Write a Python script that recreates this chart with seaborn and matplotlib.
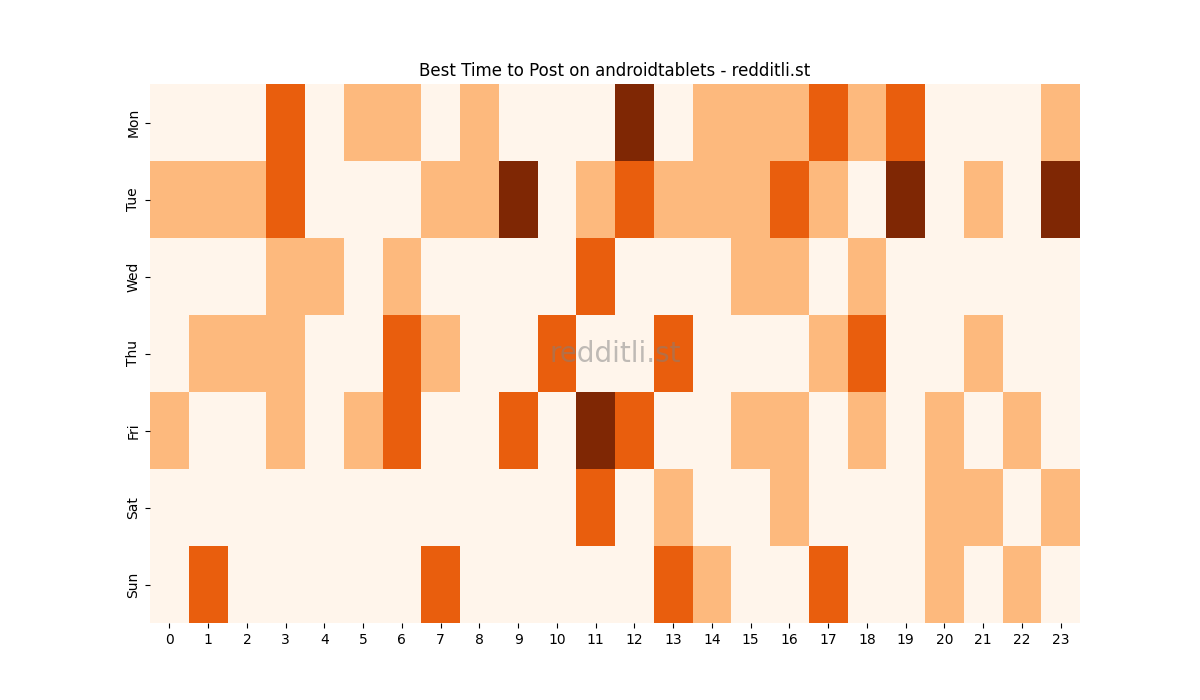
import matplotlib
matplotlib.use("Agg")
import matplotlib.pyplot as plt
import seaborn as sns
import pandas as pd
import numpy as np

days = ["Mon", "Tue", "Wed", "Thu", "Fri", "Sat", "Sun"]
hours = list(range(24))

mon = [0, 0, 0, 2, 0, 1, 1, 0, 1, 0, 0, 0, 3, 0, 1, 1, 1, 2, 1, 2, 0, 0, 0, 1]
tue = [1, 1, 1, 2, 0, 0, 0, 1, 1, 3, 0, 1, 2, 1, 1, 1, 2, 1, 0, 3, 0, 1, 0, 3]
wed = [0, 0, 0, 1, 1, 0, 1, 0, 0, 0, 0, 2, 0, 0, 0, 1, 1, 0, 1, 0, 0, 0, 0, 0]
thu = [0, 1, 1, 1, 0, 0, 2, 1, 0, 0, 2, 0, 0, 2, 0, 0, 0, 1, 2, 0, 0, 1, 0, 0]
fri = [1, 0, 0, 1, 0, 1, 2, 0, 0, 2, 0, 3, 2, 0, 0, 1, 1, 0, 1, 0, 1, 0, 1, 0]
sat = [0, 0, 0, 0, 0, 0, 0, 0, 0, 0, 0, 2, 0, 1, 0, 0, 1, 0, 0, 0, 1, 1, 0, 1]
sun = [0, 2, 0, 0, 0, 0, 0, 2, 0, 0, 0, 0, 0, 2, 1, 0, 0, 2, 0, 0, 1, 0, 1, 0]

df = pd.DataFrame([mon, tue, wed, thu, fri, sat, sun], index=days, columns=hours)

fig, ax = plt.subplots(figsize=(12, 7), dpi=100)
sns.heatmap(df, cmap="Oranges", vmin=0, vmax=3, cbar=False, ax=ax)
ax.set_title("Best Time to Post on androidtablets - redditli.st")
ax.text(0.5, 0.5, "redditli.st", transform=ax.transAxes, ha="center", va="center",
        fontsize=20, color="gray", alpha=0.5)
fig.savefig("out.png", dpi=100)
